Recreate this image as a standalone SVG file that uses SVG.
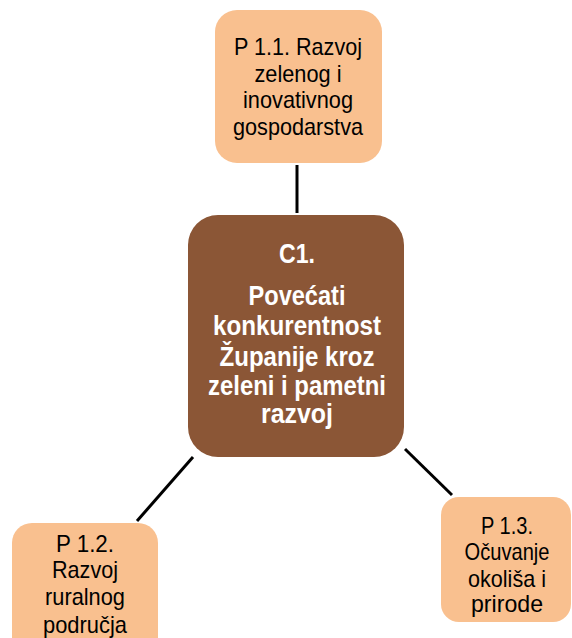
<svg xmlns="http://www.w3.org/2000/svg" width="572" height="638" viewBox="0 0 572 638">
<style>
.peach{fill:#F9C08F}
.brown{fill:#8B5636}
.t{font-family:"Liberation Sans",Arial,sans-serif;font-size:24px;fill:#000;text-anchor:middle}
.c{font-family:"Liberation Sans",Arial,sans-serif;font-size:28px;font-weight:bold;fill:#fff;text-anchor:middle}
.ln{stroke:#000;stroke-width:3;fill:none}
</style>
<rect width="572" height="638" fill="#fff"/>
<g id="connectors">
<line class="ln" x1="297" y1="165" x2="297" y2="213" stroke-width="4"/>
<line class="ln" x1="193" y1="457" x2="137" y2="521"/>
<line class="ln" x1="405" y1="449" x2="452" y2="495"/>
</g>
<g id="p11">
<rect class="peach" x="215" y="10" width="167" height="153" rx="22"/>
<text class="t" x="298" y="55" textLength="128" lengthAdjust="spacingAndGlyphs">P 1.1. Razvoj</text>
<text class="t" x="298" y="82" textLength="87" lengthAdjust="spacingAndGlyphs">zelenog i</text>
<text class="t" x="298" y="108" textLength="110" lengthAdjust="spacingAndGlyphs">inovativnog</text>
<text class="t" x="298" y="135" textLength="130" lengthAdjust="spacingAndGlyphs">gospodarstva</text>
</g>
<g id="c1">
<rect class="brown" x="188" y="215" width="216" height="242" rx="30"/>
<text class="c" x="297" y="263" textLength="36" lengthAdjust="spacingAndGlyphs">C1.</text>
<text class="c" x="297" y="305" textLength="97" lengthAdjust="spacingAndGlyphs">Povećati</text>
<text class="c" x="297" y="335" textLength="168" lengthAdjust="spacingAndGlyphs">konkurentnost</text>
<text class="c" x="297" y="366" textLength="155" lengthAdjust="spacingAndGlyphs">Županije kroz</text>
<text class="c" x="297" y="395" textLength="178" lengthAdjust="spacingAndGlyphs">zeleni i pametni</text>
<text class="c" x="297" y="423" textLength="72" lengthAdjust="spacingAndGlyphs">razvoj</text>
</g>
<g id="p12">
<rect class="peach" x="12" y="523" width="146" height="140" rx="20"/>
<text class="t" x="85" y="552" textLength="58" lengthAdjust="spacingAndGlyphs">P 1.2.</text>
<text class="t" x="85" y="578" textLength="66" lengthAdjust="spacingAndGlyphs">Razvoj</text>
<text class="t" x="85" y="605" textLength="80" lengthAdjust="spacingAndGlyphs">ruralnog</text>
<text class="t" x="85" y="633" textLength="84" lengthAdjust="spacingAndGlyphs">područja</text>
</g>
<g id="p13">
<rect class="peach" x="441" y="497" width="130" height="125" rx="18"/>
<text class="t" x="507" y="534" textLength="52" lengthAdjust="spacingAndGlyphs">P 1.3.</text>
<text class="t" x="507" y="560" textLength="85" lengthAdjust="spacingAndGlyphs">Očuvanje</text>
<text class="t" x="507" y="587" textLength="78" lengthAdjust="spacingAndGlyphs">okoliša i</text>
<text class="t" x="507" y="612" textLength="72" lengthAdjust="spacingAndGlyphs">prirode</text>
</g>
</svg>
